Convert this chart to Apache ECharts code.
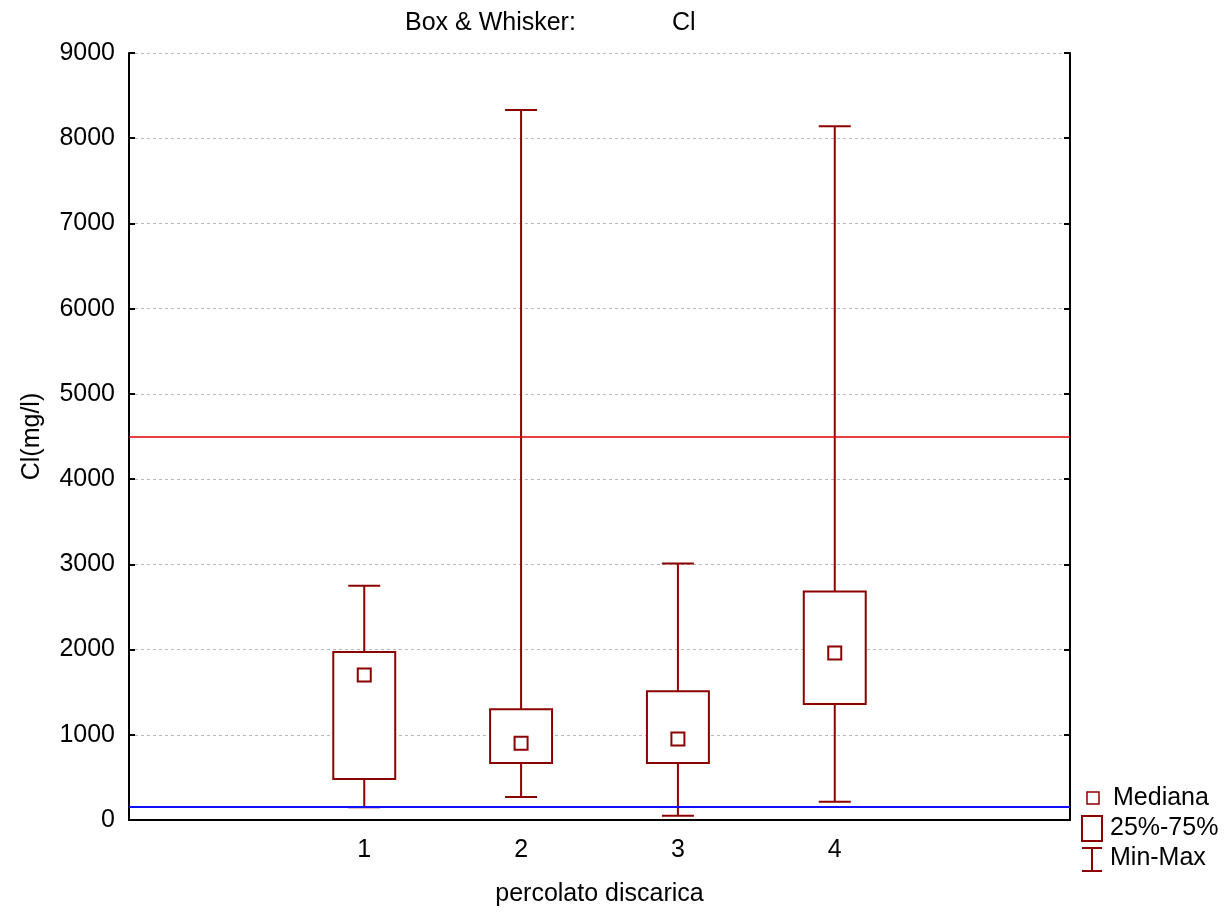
<!DOCTYPE html>
<html>
<head>
<meta charset="utf-8">
<script src="https://cdn.jsdelivr.net/npm/echarts@6/dist/echarts.min.js"></script>
<style>html,body{margin:0;padding:0;background:#fff;}#c{width:1230px;height:912px;}</style>
</head>
<body>
<div id="c"></div>
<script>
// ---- data ----
var categories = ['', '1', '2', '3', '4', ''];
var groups = ['1', '2', '3', '4'];
var minValues = [150, 270, 50, 215];
var q1Values = [480, 670, 670, 1360];
var medianValues = [1700, 900, 950, 1960];
var q3Values = [1970, 1300, 1510, 2680];
var maxValues = [2750, 8330, 3010, 8140];
var refLineHigh = 4500;
var refLineLow = 150;
var yTicks = [0, 1000, 2000, 3000, 4000, 5000, 6000, 7000, 8000, 9000];

var boxData = groups.map(function (g, i) {
  return [categories.indexOf(g), minValues[i], q1Values[i], medianValues[i], q3Values[i], maxValues[i]];
});

var BOX = '#8b0000';
var FONT = 'Liberation Sans, Arial, sans-serif';

var chart = echarts.init(document.getElementById('c'));
chart.setOption({
  animation: false,
  backgroundColor: '#fff',
  title: [
    { text: 'Box & Whisker:', left: 400, top: 6, textStyle: { fontFamily: FONT, fontSize: 25, fontWeight: 'normal', color: '#000' } },
    { text: 'Cl', left: 667, top: 6, textStyle: { fontFamily: FONT, fontSize: 25, fontWeight: 'normal', color: '#000' } }
  ],
  grid: { left: 129, right: 160, top: 53, bottom: 91 },
  xAxis: [
    {
      type: 'category', data: categories, position: 'bottom', boundaryGap: true,
      name: 'percolato discarica', nameLocation: 'middle', nameGap: 62,
      nameTextStyle: { fontFamily: FONT, fontSize: 25, color: '#000' },
      axisLine: { lineStyle: { color: '#000', width: 2 } },
      axisTick: { inside: true, alignWithLabel: true, length: 6, lineStyle: { color: '#000', width: 2 } },
      axisLabel: { fontFamily: FONT, fontSize: 25, color: '#000', margin: 18 },
      splitLine: { show: false }
    },
    {
      type: 'category', data: categories, position: 'top', boundaryGap: true,
      axisLine: { lineStyle: { color: '#000', width: 2 } },
      axisTick: { inside: true, alignWithLabel: true, length: 6, lineStyle: { color: '#000', width: 2 } },
      axisLabel: { show: false },
      splitLine: { show: false }
    }
  ],
  yAxis: [
    {
      type: 'value', min: yTicks[0], max: yTicks[yTicks.length - 1], interval: 1000, position: 'left',
      name: 'Cl(mg/l)', nameLocation: 'middle', nameGap: 84, nameRotate: 90,
      nameTextStyle: { fontFamily: FONT, fontSize: 25, color: '#000' },
      axisLine: { show: true, lineStyle: { color: '#000', width: 2 } },
      axisTick: { show: true, inside: true, length: 6, lineStyle: { color: '#000', width: 2 } },
      axisLabel: { fontFamily: FONT, fontSize: 25, color: '#000', margin: 14, formatter: function (v) { return String(v); } },
      splitLine: { show: true, lineStyle: { color: '#b8b8b8', width: 1, type: [3, 3] } }
    },
    {
      type: 'value', min: yTicks[0], max: yTicks[yTicks.length - 1], interval: 1000, position: 'right',
      axisLine: { show: true, lineStyle: { color: '#000', width: 2 } },
      axisTick: { show: true, inside: true, length: 6, lineStyle: { color: '#000', width: 2 } },
      axisLabel: { show: false },
      splitLine: { show: false }
    }
  ],
  series: [
    {
      type: 'custom',
      name: 'box',
      xAxisIndex: 0, yAxisIndex: 0,
      data: boxData,
      z: 3,
      renderItem: function (params, api) {
        var x = api.value(0);
        var pMin = api.coord([x, api.value(1)]);
        var pQ1 = api.coord([x, api.value(2)]);
        var pMed = api.coord([x, api.value(3)]);
        var pQ3 = api.coord([x, api.value(4)]);
        var pMax = api.coord([x, api.value(5)]);
        var band = api.size([1, 0])[0];
        var boxW = band * 0.395;
        var capW = band * 0.204;
        var medS = 13;
        var cx = pMed[0];
        var st = { stroke: BOX, lineWidth: 2, fill: 'none' };
        return {
          type: 'group',
          children: [
            { type: 'line', shape: { x1: cx, y1: pMax[1], x2: cx, y2: pQ3[1] }, style: st },
            { type: 'line', shape: { x1: cx, y1: pQ1[1], x2: cx, y2: pMin[1] }, style: st },
            { type: 'line', shape: { x1: cx - capW / 2, y1: pMax[1], x2: cx + capW / 2, y2: pMax[1] }, style: st },
            { type: 'line', shape: { x1: cx - capW / 2, y1: pMin[1], x2: cx + capW / 2, y2: pMin[1] }, style: st },
            { type: 'rect', shape: { x: cx - boxW / 2, y: pQ3[1], width: boxW, height: pQ1[1] - pQ3[1] }, style: { stroke: BOX, lineWidth: 2, fill: '#fff' } },
            { type: 'rect', shape: { x: cx - medS / 2, y: pMed[1] - medS / 2, width: medS, height: medS }, style: { stroke: BOX, lineWidth: 2, fill: '#fff' } }
          ]
        };
      }
    },
    {
      type: 'line',
      name: 'ref',
      data: [],
      markLine: {
        silent: true, symbol: 'none', label: { show: false },
        data: [
          { yAxis: refLineHigh, lineStyle: { color: '#e00000', width: 1.5, type: 'solid' } },
          { yAxis: refLineLow, lineStyle: { color: '#1010ff', width: 2, type: 'solid' } }
        ]
      },
      z: 4
    }
  ],
  graphic: [
    { type: 'rect', shape: { x: 1087, y: 792, width: 12, height: 12 }, style: { stroke: BOX, lineWidth: 1.5, fill: '#fff' } },
    { type: 'text', left: 1113, top: 786, style: { text: 'Mediana', font: '25px ' + FONT, fill: '#000' } },
    { type: 'rect', shape: { x: 1082, y: 816, width: 20, height: 25 }, style: { stroke: BOX, lineWidth: 2, fill: '#fff' } },
    { type: 'text', left: 1110, top: 816, style: { text: '25%-75%', font: '25px ' + FONT, fill: '#000' } },
    { type: 'line', shape: { x1: 1082, y1: 848, x2: 1102, y2: 848 }, style: { stroke: BOX, lineWidth: 2 } },
    { type: 'line', shape: { x1: 1092, y1: 848, x2: 1092, y2: 871 }, style: { stroke: BOX, lineWidth: 2 } },
    { type: 'line', shape: { x1: 1082, y1: 871, x2: 1102, y2: 871 }, style: { stroke: BOX, lineWidth: 2 } },
    { type: 'text', left: 1110, top: 846, style: { text: 'Min-Max', font: '25px ' + FONT, fill: '#000' } }
  ]
});
</script>
</body>
</html>
